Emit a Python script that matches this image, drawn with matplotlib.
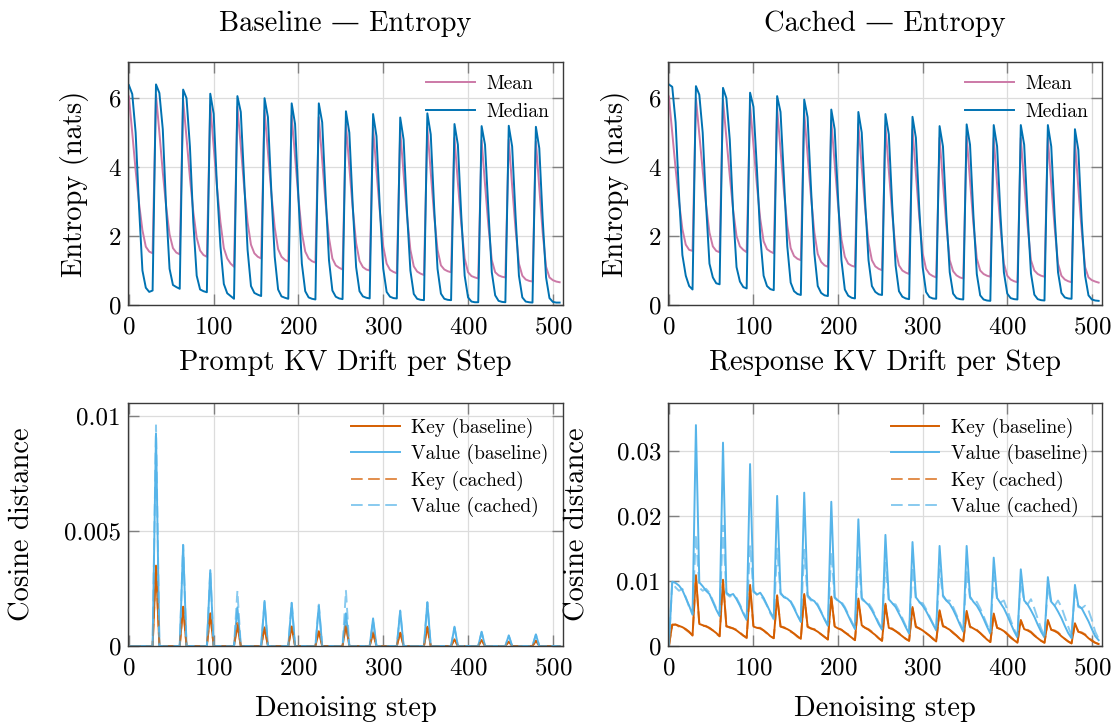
import numpy as np
import matplotlib
matplotlib.use('Agg')
import matplotlib.pyplot as plt

plt.rcParams['font.family'] = ['cmr10', 'DejaVu Serif']
plt.rcParams['mathtext.fontset'] = 'cm'
plt.rcParams['axes.formatter.use_mathtext'] = True

# denoising steps, logged every 4 steps (16 blocks of 32 steps)
steps = np.arange(0, 512, 4)

# entropy (nats), one row per block
base_mean = [
    [6.05, 5.00, 3.90, 2.95, 2.17, 1.69, 1.55, 1.50],
    [6.10, 5.00, 3.85, 2.85, 2.05, 1.65, 1.52, 1.47],
    [5.95, 4.85, 3.70, 2.70, 1.95, 1.58, 1.45, 1.40],
    [5.80, 4.60, 3.40, 2.40, 1.65, 1.35, 1.20, 1.11],
    [5.75, 4.60, 3.40, 2.40, 1.75, 1.50, 1.40, 1.35],
    [5.65, 4.45, 3.25, 2.25, 1.62, 1.40, 1.31, 1.26],
    [5.50, 4.30, 3.10, 2.10, 1.55, 1.35, 1.27, 1.23],
    [5.45, 4.20, 2.95, 1.95, 1.35, 1.15, 1.08, 1.03],
    [5.25, 4.00, 2.80, 1.80, 1.28, 1.10, 1.03, 1.00],
    [5.15, 3.90, 2.70, 1.70, 1.20, 1.02, 0.96, 0.92],
    [5.05, 3.80, 2.60, 1.60, 1.12, 0.97, 0.91, 0.87],
    [5.15, 3.85, 2.60, 1.60, 1.15, 1.03, 0.98, 0.95],
    [4.85, 3.55, 2.35, 1.35, 0.95, 0.84, 0.80, 0.77],
    [4.78, 3.50, 2.30, 1.30, 0.95, 0.86, 0.82, 0.80],
    [4.80, 3.45, 2.20, 1.20, 0.85, 0.74, 0.70, 0.68],
    [4.75, 3.40, 2.10, 1.11, 0.80, 0.72, 0.68, 0.66],
]
base_median = [
    [6.38, 6.12, 5.00, 2.85, 1.00, 0.50, 0.38, 0.42],
    [6.40, 6.15, 5.10, 2.80, 1.05, 0.58, 0.52, 0.47],
    [6.25, 6.00, 4.60, 2.40, 0.85, 0.45, 0.40, 0.37],
    [6.13, 5.55, 3.40, 1.70, 0.61, 0.34, 0.26, 0.18],
    [6.06, 5.60, 3.60, 1.60, 0.55, 0.35, 0.30, 0.26],
    [6.00, 5.45, 3.30, 1.40, 0.45, 0.25, 0.21, 0.18],
    [5.85, 5.25, 3.10, 1.20, 0.40, 0.22, 0.18, 0.16],
    [5.85, 5.30, 3.20, 1.30, 0.42, 0.24, 0.19, 0.17],
    [5.62, 5.00, 2.90, 1.10, 0.40, 0.25, 0.21, 0.19],
    [5.54, 4.90, 2.80, 1.05, 0.38, 0.24, 0.20, 0.19],
    [5.44, 4.80, 2.70, 1.00, 0.32, 0.18, 0.15, 0.14],
    [5.56, 4.95, 2.85, 1.05, 0.33, 0.18, 0.15, 0.14],
    [5.25, 4.65, 2.60, 0.85, 0.22, 0.10, 0.08, 0.08],
    [5.19, 4.65, 2.75, 0.95, 0.28, 0.12, 0.09, 0.08],
    [5.20, 4.60, 2.60, 0.85, 0.22, 0.10, 0.08, 0.07],
    [5.17, 4.55, 2.50, 0.80, 0.20, 0.09, 0.07, 0.07],
]
cached_mean = [
    [6.05, 5.00, 3.95, 3.00, 2.20, 1.75, 1.60, 1.57],
    [6.00, 4.95, 3.90, 2.90, 2.10, 1.70, 1.57, 1.53],
    [5.95, 4.85, 3.75, 2.75, 2.00, 1.70, 1.60, 1.53],
    [5.80, 4.65, 3.50, 2.50, 1.85, 1.62, 1.55, 1.50],
    [5.70, 4.50, 3.30, 2.30, 1.65, 1.42, 1.34, 1.30],
    [5.60, 4.35, 3.15, 2.10, 1.48, 1.25, 1.15, 1.11],
    [5.35, 4.10, 2.90, 1.90, 1.40, 1.20, 1.14, 1.11],
    [5.25, 4.00, 2.80, 1.80, 1.30, 1.12, 1.05, 1.01],
    [5.20, 3.90, 2.65, 1.60, 1.15, 1.00, 0.94, 0.90],
    [5.10, 3.80, 2.55, 1.50, 1.05, 0.90, 0.84, 0.80],
    [4.85, 3.55, 2.30, 1.30, 0.98, 0.86, 0.80, 0.77],
    [4.90, 3.60, 2.35, 1.35, 1.00, 0.90, 0.85, 0.82],
    [4.85, 3.50, 2.25, 1.20, 0.85, 0.74, 0.69, 0.66],
    [4.85, 3.55, 2.30, 1.30, 1.00, 0.90, 0.85, 0.82],
    [4.85, 3.50, 2.25, 1.20, 0.85, 0.74, 0.69, 0.66],
    [4.75, 3.40, 2.15, 1.10, 0.80, 0.72, 0.68, 0.65],
]
cached_median = [
    [6.40, 6.33, 5.30, 3.20, 1.45, 0.85, 0.55, 0.45],
    [6.35, 6.10, 5.00, 2.90, 1.20, 0.80, 0.63, 0.60],
    [6.30, 6.00, 4.80, 2.70, 1.10, 0.68, 0.52, 0.48],
    [6.16, 5.75, 4.00, 2.00, 0.85, 0.55, 0.46, 0.43],
    [6.06, 5.60, 3.70, 1.70, 0.65, 0.40, 0.32, 0.29],
    [5.96, 5.45, 3.40, 1.50, 0.55, 0.35, 0.28, 0.26],
    [5.67, 5.10, 3.10, 1.30, 0.45, 0.27, 0.21, 0.19],
    [5.60, 5.00, 3.00, 1.30, 0.55, 0.38, 0.31, 0.29],
    [5.54, 4.95, 2.90, 1.15, 0.40, 0.24, 0.19, 0.17],
    [5.46, 4.85, 2.80, 1.10, 0.38, 0.23, 0.19, 0.18],
    [5.19, 4.60, 2.60, 0.95, 0.33, 0.20, 0.17, 0.16],
    [5.24, 4.65, 2.60, 0.90, 0.28, 0.16, 0.13, 0.12],
    [5.22, 4.60, 2.60, 0.95, 0.33, 0.20, 0.17, 0.16],
    [5.22, 4.65, 2.65, 0.92, 0.30, 0.17, 0.14, 0.13],
    [5.22, 4.60, 2.60, 0.95, 0.35, 0.22, 0.19, 0.18],
    [5.10, 4.50, 2.45, 0.85, 0.28, 0.16, 0.13, 0.12],
]

# prompt KV drift: zero except at the first step of each block
prompt_key_base = [0, 0.00348, 0.00171, 0.00142, 0.00090, 0.00081, 0.00084, 0.00062,
                   0.00090, 0.00055, 0.00058, 0.00084, 0.00029, 0.00026, 0.00019, 0.00023]
prompt_value_base = [0, 0.00925, 0.00439, 0.00330, 0.00168, 0.00196, 0.00188, 0.00174,
                     0.00142, 0.00120, 0.00154, 0.00190, 0.00084, 0.00062, 0.00046, 0.00050]
prompt_key_cached = [0, 0.00350, 0.00170, 0.00140, 0.00100, 0.00080, 0.00085, 0.00065,
                     0.00095, 0.00060, 0.00060, 0.00080, 0.00030, 0.00025, 0.00020, 0.00022]
prompt_value_cached = [0, 0.00960, 0.00440, 0.00330, 0.00240, 0.00190, 0.00190, 0.00180,
                       0.00240, 0.00110, 0.00150, 0.00190, 0.00080, 0.00060, 0.00045, 0.00050]

# response KV drift, one row per block
resp_key_base = [
    [0.0000, 0.0033, 0.0033, 0.0031, 0.0029, 0.0026, 0.0022, 0.0016],
    [0.0109, 0.0034, 0.0032, 0.0030, 0.0028, 0.0024, 0.0020, 0.0015],
    [0.0102, 0.0030, 0.0029, 0.0027, 0.0024, 0.0020, 0.0016, 0.0013],
    [0.0094, 0.0030, 0.0028, 0.0027, 0.0024, 0.0020, 0.0015, 0.0012],
    [0.0078, 0.0030, 0.0028, 0.0026, 0.0023, 0.0019, 0.0015, 0.0011],
    [0.0080, 0.0030, 0.0027, 0.0025, 0.0022, 0.0018, 0.0014, 0.0010],
    [0.0076, 0.0030, 0.0027, 0.0025, 0.0021, 0.0017, 0.0013, 0.0009],
    [0.0073, 0.0032, 0.0028, 0.0025, 0.0021, 0.0017, 0.0012, 0.0008],
    [0.0065, 0.0028, 0.0026, 0.0023, 0.0019, 0.0015, 0.0011, 0.0008],
    [0.0060, 0.0030, 0.0027, 0.0024, 0.0020, 0.0016, 0.0011, 0.0007],
    [0.0055, 0.0031, 0.0028, 0.0025, 0.0020, 0.0016, 0.0011, 0.0007],
    [0.0054, 0.0030, 0.0027, 0.0024, 0.0020, 0.0015, 0.0010, 0.0006],
    [0.0050, 0.0028, 0.0026, 0.0023, 0.0018, 0.0013, 0.0009, 0.0005],
    [0.0040, 0.0026, 0.0024, 0.0021, 0.0016, 0.0012, 0.0008, 0.0005],
    [0.0040, 0.0025, 0.0023, 0.0020, 0.0015, 0.0011, 0.0007, 0.0004],
    [0.0035, 0.0022, 0.0020, 0.0017, 0.0012, 0.0008, 0.0005, 0.0003],
]
resp_value_base = [
    [0.0000, 0.0099, 0.0097, 0.0093, 0.0086, 0.0074, 0.0062, 0.0048],
    [0.0340, 0.0098, 0.0092, 0.0085, 0.0080, 0.0068, 0.0056, 0.0046],
    [0.0313, 0.0082, 0.0078, 0.0080, 0.0072, 0.0062, 0.0050, 0.0040],
    [0.0280, 0.0085, 0.0079, 0.0082, 0.0074, 0.0063, 0.0052, 0.0043],
    [0.0231, 0.0082, 0.0075, 0.0073, 0.0068, 0.0058, 0.0047, 0.0037],
    [0.0236, 0.0078, 0.0072, 0.0069, 0.0062, 0.0052, 0.0041, 0.0031],
    [0.0222, 0.0075, 0.0070, 0.0066, 0.0058, 0.0047, 0.0036, 0.0026],
    [0.0195, 0.0074, 0.0068, 0.0063, 0.0055, 0.0045, 0.0034, 0.0025],
    [0.0171, 0.0072, 0.0066, 0.0060, 0.0050, 0.0040, 0.0029, 0.0019],
    [0.0160, 0.0075, 0.0068, 0.0062, 0.0054, 0.0044, 0.0034, 0.0024],
    [0.0154, 0.0078, 0.0070, 0.0065, 0.0056, 0.0045, 0.0033, 0.0022],
    [0.0154, 0.0076, 0.0068, 0.0062, 0.0053, 0.0042, 0.0030, 0.0019],
    [0.0136, 0.0074, 0.0066, 0.0058, 0.0047, 0.0035, 0.0023, 0.0013],
    [0.0118, 0.0070, 0.0064, 0.0055, 0.0045, 0.0033, 0.0022, 0.0013],
    [0.0106, 0.0068, 0.0062, 0.0053, 0.0043, 0.0031, 0.0020, 0.0012],
    [0.0094, 0.0062, 0.0058, 0.0048, 0.0038, 0.0026, 0.0015, 0.0009],
]
resp_key_cached = [
    [0.0000, 0.0032, 0.0033, 0.0030, 0.0029, 0.0025, 0.0021, 0.0017],
    [0.0106, 0.0033, 0.0031, 0.0031, 0.0027, 0.0024, 0.0019, 0.0015],
    [0.0100, 0.0031, 0.0028, 0.0027, 0.0025, 0.0021, 0.0016, 0.0012],
    [0.0090, 0.0029, 0.0028, 0.0028, 0.0024, 0.0019, 0.0015, 0.0012],
    [0.0076, 0.0030, 0.0029, 0.0026, 0.0022, 0.0019, 0.0014, 0.0011],
    [0.0078, 0.0029, 0.0027, 0.0026, 0.0022, 0.0018, 0.0014, 0.0010],
    [0.0074, 0.0030, 0.0028, 0.0025, 0.0021, 0.0018, 0.0013, 0.0009],
    [0.0070, 0.0031, 0.0028, 0.0026, 0.0022, 0.0017, 0.0012, 0.0008],
    [0.0063, 0.0028, 0.0027, 0.0023, 0.0020, 0.0015, 0.0011, 0.0008],
    [0.0058, 0.0029, 0.0027, 0.0025, 0.0020, 0.0016, 0.0012, 0.0007],
    [0.0053, 0.0030, 0.0029, 0.0025, 0.0021, 0.0016, 0.0011, 0.0007],
    [0.0052, 0.0029, 0.0027, 0.0025, 0.0020, 0.0015, 0.0011, 0.0006],
    [0.0048, 0.0028, 0.0026, 0.0024, 0.0019, 0.0014, 0.0009, 0.0005],
    [0.0039, 0.0026, 0.0025, 0.0022, 0.0017, 0.0012, 0.0008, 0.0005],
    [0.0038, 0.0025, 0.0024, 0.0021, 0.0016, 0.0011, 0.0007, 0.0004],
    [0.0034, 0.0022, 0.0021, 0.0018, 0.0013, 0.0009, 0.0005, 0.0003],
]
resp_value_cached = [
    [0.0000, 0.0098, 0.0090, 0.0085, 0.0088, 0.0075, 0.0060, 0.0050],
    [0.0172, 0.0090, 0.0085, 0.0088, 0.0082, 0.0070, 0.0058, 0.0048],
    [0.0185, 0.0080, 0.0076, 0.0078, 0.0074, 0.0064, 0.0052, 0.0042],
    [0.0155, 0.0083, 0.0080, 0.0078, 0.0072, 0.0062, 0.0050, 0.0041],
    [0.0150, 0.0080, 0.0076, 0.0074, 0.0069, 0.0060, 0.0048, 0.0038],
    [0.0148, 0.0076, 0.0070, 0.0071, 0.0064, 0.0053, 0.0042, 0.0032],
    [0.0145, 0.0074, 0.0069, 0.0068, 0.0060, 0.0049, 0.0038, 0.0028],
    [0.0140, 0.0072, 0.0067, 0.0066, 0.0058, 0.0047, 0.0036, 0.0027],
    [0.0128, 0.0070, 0.0065, 0.0064, 0.0054, 0.0043, 0.0031, 0.0021],
    [0.0122, 0.0072, 0.0067, 0.0066, 0.0057, 0.0046, 0.0035, 0.0025],
    [0.0118, 0.0076, 0.0070, 0.0070, 0.0060, 0.0048, 0.0036, 0.0024],
    [0.0115, 0.0074, 0.0068, 0.0068, 0.0058, 0.0046, 0.0033, 0.0021],
    [0.0108, 0.0072, 0.0067, 0.0070, 0.0056, 0.0040, 0.0026, 0.0015],
    [0.0100, 0.0068, 0.0064, 0.0072, 0.0058, 0.0042, 0.0027, 0.0015],
    [0.0092, 0.0065, 0.0062, 0.0070, 0.0060, 0.0045, 0.0030, 0.0016],
    [0.0085, 0.0060, 0.0058, 0.0062, 0.0055, 0.0040, 0.0022, 0.0011],
]

c_mean = '#cc79a7'
c_median = '#0072b2'
c_key = '#d55e00'
c_value = '#56b4e9'
dash = (0, (6, 2.8))
lw = 1.4


def flat(rows):
    return np.asarray(rows, dtype=float).ravel()


def block_starts(vals):
    out = np.zeros(len(steps))
    out[::8] = vals
    return out


def style(ax, ylim, yticks, yticklabels):
    ax.set_xlim(-1, 512)
    ax.set_ylim(*ylim)
    ax.set_xticks([0, 100, 200, 300, 400, 500])
    ax.set_yticks(yticks, yticklabels)
    ax.grid(True, color='#dcdcdc', lw=0.9)
    ax.set_axisbelow(True)
    ax.tick_params(direction='in', length=8, width=1.0, color='#808080',
                   top=True, right=True, labelsize=18)
    ax.tick_params(axis='x', pad=8)
    ax.tick_params(axis='y', pad=5)
    for s in ax.spines.values():
        s.set_color('#3a3a3a')
        s.set_linewidth(1.0)


def legend(ax, x, y, spacing):
    ax.legend(loc='upper left', bbox_to_anchor=(x, y), frameon=False, fontsize=14,
              handlelength=2.5, handletextpad=0.6, labelspacing=spacing,
              borderpad=0, borderaxespad=0)


fig = plt.figure(figsize=(11.18, 7.26), dpi=100)
axTL = fig.add_axes([0.1145, 0.5799, 0.3891, 0.3347])
axTR = fig.add_axes([0.5975, 0.5799, 0.3882, 0.3347])
axBL = fig.add_axes([0.1145, 0.1102, 0.3891, 0.3347])
axBR = fig.add_axes([0.5975, 0.1102, 0.3882, 0.3347])

# entropy panels
for ax, mean, median, xlab in [(axTL, base_mean, base_median, 'Prompt KV Drift per Step'),
                               (axTR, cached_mean, cached_median, 'Response KV Drift per Step')]:
    ax.plot(steps, flat(mean), color=c_mean, lw=lw, label='Mean')
    ax.plot(steps, flat(median), color=c_median, lw=lw, label='Median')
    style(ax, (0, 7.05), [0, 2, 4, 6], ['0', '2', '4', '6'])
    ax.set_xlabel(xlab, fontsize=20.5, va='center')
    ax.xaxis.set_label_coords(0.5, -0.239)
    ax.set_ylabel('Entropy (nats)', fontsize=20.5, va='center')
    ax.yaxis.set_label_coords(-0.122, 0.5)
    legend(ax, 0.685, 0.945, 0.5)

# prompt drift
axBL.plot(steps, block_starts(prompt_key_base), color=c_key, lw=lw, label='Key (baseline)')
axBL.plot(steps, block_starts(prompt_value_base), color=c_value, lw=lw, label='Value (baseline)')
axBL.plot(steps, block_starts(prompt_key_cached), color=c_key, lw=lw, ls=dash, alpha=0.7,
          label='Key (cached)')
axBL.plot(steps, block_starts(prompt_value_cached), color=c_value, lw=lw, ls=dash, alpha=0.7,
          label='Value (cached)')
style(axBL, (0, 0.01057), [0, 0.005, 0.01], ['0', '0.005', '0.01'])

# response drift
axBR.plot(steps, flat(resp_key_base), color=c_key, lw=lw, label='Key (baseline)')
axBR.plot(steps, flat(resp_value_base), color=c_value, lw=lw, label='Value (baseline)')
axBR.plot(steps, flat(resp_key_cached), color=c_key, lw=lw, ls=dash, alpha=0.7,
          label='Key (cached)')
axBR.plot(steps, flat(resp_value_cached), color=c_value, lw=lw, ls=dash, alpha=0.7,
          label='Value (cached)')
style(axBR, (0, 0.0374), [0, 0.01, 0.02, 0.03], ['0', '0.01', '0.02', '0.03'])

for ax in [axBL, axBR]:
    ax.set_xlabel('Denoising step', fontsize=20.5, va='center')
    ax.xaxis.set_label_coords(0.5, -0.259)
    ax.set_ylabel('Cosine distance', fontsize=20.5, va='center')
    legend(ax, 0.513, 0.94, 0.33)
axBR.yaxis.set_label_coords(-0.21, 0.5)
axBL.yaxis.set_label_coords(-0.244, 0.5)

fig.text(345.5 / 1118, 1 - 31 / 726, 'Baseline — Entropy', ha='center', va='baseline', fontsize=20.5)
fig.text(885 / 1118, 1 - 31 / 726, 'Cached — Entropy', ha='center', va='baseline', fontsize=20.5)

fig.savefig('out.png', dpi=100)
